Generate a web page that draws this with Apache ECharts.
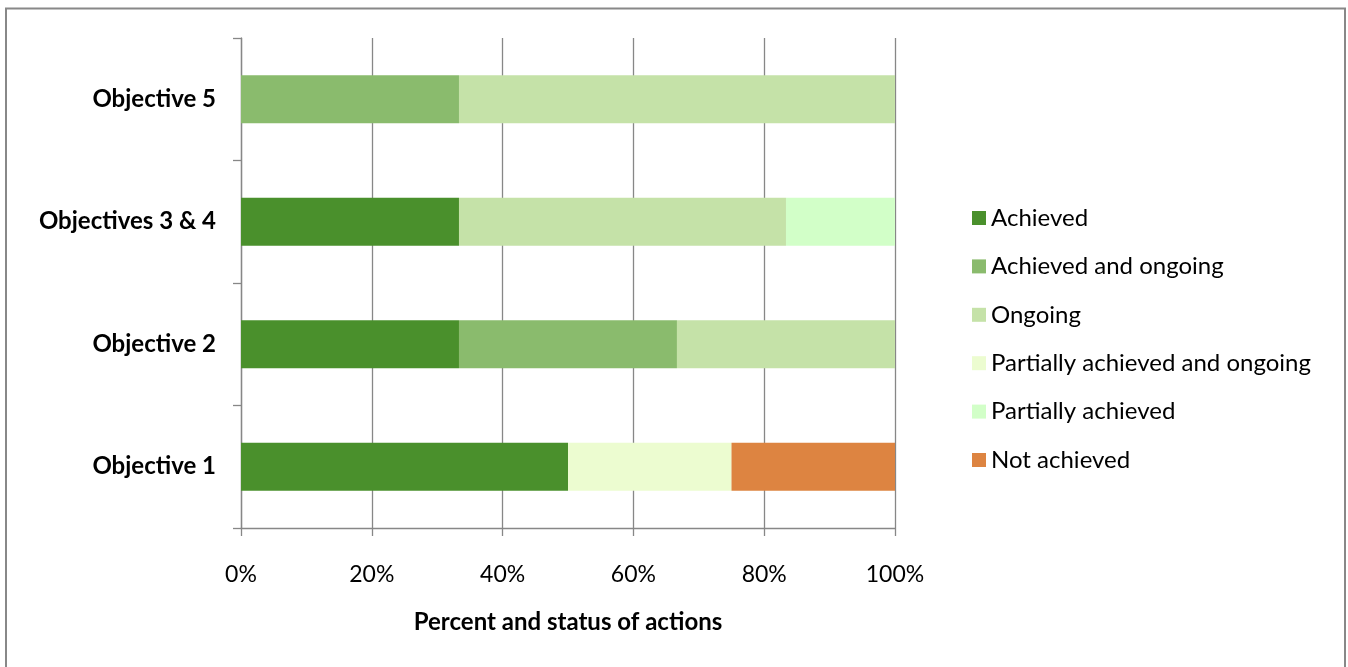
<!DOCTYPE html>
<html>
<head>
<meta charset="utf-8">
<title>Percent and status of actions</title>
<script src="https://cdn.jsdelivr.net/npm/echarts@6/dist/echarts.min.js"></script>
<style>
  html, body { margin: 0; padding: 0; background: #fff; }
  #chart { width: 1348px; height: 667px; }
</style>
</head>
<body>
<div id="chart"></div>
<script>
// Objectives, listed bottom to top on the category axis
const categories = ['Objective 1', 'Objective 2', 'Objectives 3 & 4', 'Objective 5'];

// Share of actions (%) per status, one value per objective
const achieved            = [50,   33.33, 33.33, null];
const achievedOngoing     = [null, 33.33, null,  33.33];
const ongoing             = [null, 33.34, 50,    66.67];
const partialOngoing      = [25,   null,  null,  null];
const partiallyAchieved   = [null, null,  16.67, null];
const notAchieved         = [25,   null,  null,  null];

const statusNames = ['Achieved', 'Achieved and ongoing', 'Ongoing',
  'Partially achieved and ongoing', 'Partially achieved', 'Not achieved'];
const statusValues = [achieved, achievedOngoing, ongoing, partialOngoing, partiallyAchieved, notAchieved];
const statusColors = ['#4A902C', '#8ABB6D', '#C5E2A8', '#ECFCD0', '#D2FFC8', '#DD8441'];

// x axis ticks (percent)
const xTicks = { min: 0, max: 100, interval: 20 };

const FONT = 'Lato, "Open Sans", sans-serif';
const AXIS_GREY = '#878787';

const chart = echarts.init(document.getElementById('chart'), null, { renderer: 'canvas' });

chart.setOption({
  animation: false,
  backgroundColor: '#ffffff',
  textStyle: { fontFamily: FONT },
  graphic: [{
    type: 'rect',
    silent: true,
    z: 100,
    shape: { x: 6, y: 8.5, width: 1339, height: 700 },
    style: { fill: 'none', stroke: '#888888', lineWidth: 2 }
  }],
  grid: { left: 241, right: 453, top: 38, bottom: 139, containLabel: false },
  legend: {
    orient: 'vertical',
    left: 967,
    top: 201,
    icon: 'rect',
    itemWidth: 14,
    itemHeight: 14,
    itemGap: 24.4,
    textStyle: { fontFamily: FONT, fontSize: 24, color: '#000', lineHeight: 24 },
    data: statusNames
  },
  xAxis: {
    type: 'value',
    min: xTicks.min,
    max: xTicks.max,
    interval: xTicks.interval,
    name: 'Percent and status of actions',
    nameLocation: 'middle',
    nameGap: 82,
    nameTextStyle: { fontFamily: FONT, fontSize: 24, fontWeight: 'bold', color: '#000' },
    axisLine: { show: true, lineStyle: { color: AXIS_GREY, width: 1.3 } },
    axisTick: { show: true, length: 8, lineStyle: { color: AXIS_GREY, width: 1.3 } },
    axisLabel: { formatter: '{value}%', fontFamily: FONT, fontSize: 23, color: '#000', margin: 35 },
    splitLine: { show: true, lineStyle: { color: AXIS_GREY, width: 1.3 } }
  },
  yAxis: {
    type: 'category',
    data: categories,
    axisLine: { show: true, lineStyle: { color: AXIS_GREY, width: 1.3 } },
    axisTick: { show: true, length: 8, lineStyle: { color: AXIS_GREY, width: 1.3 } },
    axisLabel: { fontFamily: FONT, fontSize: 24, fontWeight: 'bold', color: '#000', margin: 25 },
    splitLine: { show: false }
  },
  series: statusNames.map((name, i) => ({
    name,
    type: 'bar',
    stack: 'total',
    barWidth: 48,
    itemStyle: { color: statusColors[i] },
    data: statusValues[i]
  }))
});
</script>
</body>
</html>
